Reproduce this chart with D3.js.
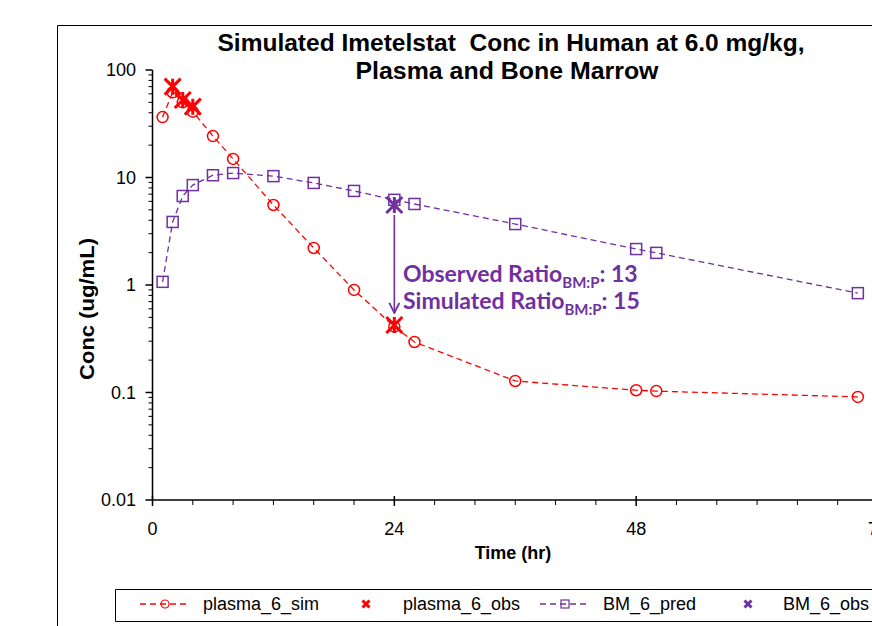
<!DOCTYPE html>
<html>
<head>
<title>Imetelstat Conc</title>
<style>
  body, html { margin: 0; padding: 0; background: #fff; }
  svg { display: block; }
</style>
</head>
<body>
<svg id="svg" width="872" height="626"></svg>
<script src="https://cdn.jsdelivr.net/npm/d3@7"></script>
<script>
  // values
  const times = [1, 2, 3, 4, 6, 8, 12, 16, 20, 24, 26, 36, 48, 50, 70]
  const plasmaSim = [36.5, 62, 50, 41, 24.3, 14.9, 5.55, 2.21, 0.90, 0.41, 0.295, 0.128, 0.105, 0.103, 0.091]
  const bmPred = [1.07, 3.86, 6.73, 8.5, 10.5, 11.0, 10.3, 8.9, 7.5, 6.2, 5.67, 3.69, 2.16, 1.99, 0.84]
  const plasmaObsTimes = [2, 3, 4, 24]
  const plasmaObs = [70, 52.6, 45.6, 0.425]
  const bmObsTimes = [24]
  const bmObs = [5.55]
  const xTicks = [0, 24, 48, 72]
  const yTicks = [0.01, 0.1, 1, 10, 100]
  const legendNames = ['plasma_6_sim', 'plasma_6_obs', 'BM_6_pred', 'BM_6_obs']

  const RED = '#ff0000'
  const PURPLE = '#7030a0'
  const FONT = '"Liberation Sans", Arial, sans-serif'

  const svg = d3.select('#svg')

  // outer chart frame (cut off on the right and bottom)
  svg.append('path')
    .attr('d', 'M57.5,640 V25.5 H880')
    .attr('fill', 'none')
    .attr('stroke', '#000')
    .attr('stroke-width', 1)

  const xScale = d3.scaleLinear().domain([0, 72]).range([152.5, 878])
  const yScale = d3.scaleLog().domain([0.01, 100]).range([500, 70])

  // title - the original font is tall and condensed, so squeeze it
  const title = svg.append('text')
    .attr('font-family', FONT)
    .attr('font-weight', 'bold')
    .attr('font-size', 23)
    .attr('text-anchor', 'middle')
    .attr('xml:space', 'preserve')
  title.append('tspan').attr('x', 511).attr('y', 51)
    .attr('textLength', 587).attr('lengthAdjust', 'spacingAndGlyphs')
    .text('Simulated Imetelstat  Conc in Human at 6.0 mg/kg,')
  title.append('tspan').attr('x', 507).attr('y', 79)
    .attr('textLength', 303).attr('lengthAdjust', 'spacingAndGlyphs')
    .text('Plasma and Bone Marrow')

  // axes
  const g = svg.append('g')

  g.append('line')
    .attr('x1', xScale(0)).attr('x2', xScale(0))
    .attr('y1', yScale(100)).attr('y2', yScale(0.01))
    .attr('stroke', '#000').attr('stroke-width', 1.5)
  g.append('line')
    .attr('x1', xScale(0)).attr('x2', 880)
    .attr('y1', yScale(0.01)).attr('y2', yScale(0.01))
    .attr('stroke', '#000').attr('stroke-width', 1.5)

  // y ticks, major + log minor
  const yMinor = []
  yTicks.slice(0, -1).forEach(t => {
    for (let k = 2; k <= 9; k++) yMinor.push(t * k)
  })
  g.selectAll('.ymin').data(yMinor).join('line')
    .attr('x1', xScale(0) - 4).attr('x2', xScale(0))
    .attr('y1', d => yScale(d)).attr('y2', d => yScale(d))
    .attr('stroke', '#000').attr('stroke-width', 1)
  g.selectAll('.ymaj').data(yTicks).join('line')
    .attr('x1', xScale(0) - 7).attr('x2', xScale(0))
    .attr('y1', d => yScale(d)).attr('y2', d => yScale(d))
    .attr('stroke', '#000').attr('stroke-width', 1.5)
  g.selectAll('.ylab').data(yTicks).join('text')
    .attr('x', 136)
    .attr('y', d => yScale(d) + 6)
    .attr('text-anchor', 'end')
    .attr('font-family', FONT)
    .attr('font-size', 18)
    .text(d => d3.format('~g')(d))

  // x ticks, major every 24 and minor every 4
  const xMinor = d3.range(0, 76, 4).filter(d => d % 24 !== 0)
  g.selectAll('.xmin').data(xMinor).join('line')
    .attr('x1', d => xScale(d)).attr('x2', d => xScale(d))
    .attr('y1', yScale(0.01)).attr('y2', yScale(0.01) + 5)
    .attr('stroke', '#000').attr('stroke-width', 1)
  g.selectAll('.xmaj').data(xTicks).join('line')
    .attr('x1', d => xScale(d)).attr('x2', d => xScale(d))
    .attr('y1', yScale(0.01) - 4).attr('y2', yScale(0.01) + 6)
    .attr('stroke', '#000').attr('stroke-width', 1.5)
  g.selectAll('.xlab').data(xTicks).join('text')
    .attr('x', d => xScale(d))
    .attr('y', 535)
    .attr('text-anchor', 'middle')
    .attr('font-family', FONT)
    .attr('font-size', 18)
    .text(d => d)

  // axis titles
  svg.append('text')
    .attr('x', 513).attr('y', 559)
    .attr('text-anchor', 'middle')
    .attr('font-family', FONT).attr('font-weight', 'bold').attr('font-size', 18)
    .text('Time (hr)')
  svg.append('text')
    .attr('transform', 'translate(94,309) rotate(-90)')
    .attr('text-anchor', 'middle')
    .attr('font-family', FONT).attr('font-weight', 'bold').attr('font-size', 21)
    .attr('textLength', 142).attr('lengthAdjust', 'spacingAndGlyphs')
    .text('Conc (ug/mL)')

  // markers
  const starPath = h => `M${-h},${-h}L${h},${h}M${-h},${h}L${h},${-h}M0,${-h}L0,${h}`
  const xPath = h => `M${-h},${-h}L${h},${h}M${-h},${h}L${h},${-h}`

  const linegen = d3.line()
    .x(d => xScale(d.t))
    .y(d => yScale(d.v))

  const simData = times.map((t, i) => ({ t: t, v: plasmaSim[i] }))
  const bmData = times.map((t, i) => ({ t: t, v: bmPred[i] }))

  function drawSeries(data, color, shape) {
    svg.append('path')
      .attr('d', linegen(data))
      .attr('fill', 'none')
      .attr('stroke', color)
      .attr('stroke-width', 1.3)
      .attr('stroke-dasharray', '6,4')
    const pts = svg.append('g')
    if (shape === 'circle') {
      pts.selectAll('circle').data(data).join('circle')
        .attr('cx', d => xScale(d.t)).attr('cy', d => yScale(d.v))
        .attr('r', 5.5)
        .attr('fill', 'none').attr('stroke', color).attr('stroke-width', 1.5)
    } else {
      pts.selectAll('rect').data(data).join('rect')
        .attr('x', d => xScale(d.t) - 5.5).attr('y', d => yScale(d.v) - 5.5)
        .attr('width', 11).attr('height', 11)
        .attr('fill', 'none').attr('stroke', color).attr('stroke-width', 1.5)
    }
  }

  drawSeries(simData, RED, 'circle')
  drawSeries(bmData, PURPLE, 'square')

  function drawStars(ts, vs, color) {
    svg.append('g').selectAll('path').data(ts).join('path')
      .attr('transform', (d, i) => `translate(${xScale(d)},${yScale(vs[i])})`)
      .attr('d', starPath(8))
      .attr('fill', 'none')
      .attr('stroke', color)
      .attr('stroke-width', 3)
  }
  drawStars(plasmaObsTimes, plasmaObs, RED)
  drawStars(bmObsTimes, bmObs, PURPLE)

  // ratio arrow between the observed values at 24 h
  svg.append('defs').append('marker')
    .attr('id', 'arrow')
    .attr('viewBox', '0 0 12 12')
    .attr('refX', 11).attr('refY', 6)
    .attr('markerWidth', 12).attr('markerHeight', 12)
    .attr('markerUnits', 'userSpaceOnUse')
    .attr('orient', 'auto')
    .append('path')
    .attr('d', 'M1,1 L11,6 L1,11')
    .attr('fill', 'none')
    .attr('stroke', PURPLE)
    .attr('stroke-width', 1.8)
  svg.append('line')
    .attr('x1', xScale(24)).attr('x2', xScale(24))
    .attr('y1', yScale(bmObs[0]) + 10)
    .attr('y2', yScale(plasmaObs[3]) - 12)
    .attr('stroke', PURPLE).attr('stroke-width', 1.6)
    .attr('marker-end', 'url(#arrow)')

  const note = [['Observed Ratio', ': 13', 282], ['Simulated Ratio', ': 15', 309]]
  note.forEach(n => {
    const t = svg.append('text')
      .attr('x', 403).attr('y', n[2])
      .attr('font-family', 'Lato, "Open Sans", sans-serif')
      .attr('font-weight', 'bold')
      .attr('font-size', 23)
      .attr('fill', PURPLE)
    t.append('tspan').text(n[0])
    t.append('tspan').attr('font-size', 15).attr('dy', 6).text('BM:P')
    t.append('tspan').attr('dy', -6).text(n[1])
  })

  // legend
  svg.append('path')
    .attr('d', 'M880,589.5 H115.5 V621.5 H880')
    .attr('fill', 'none').attr('stroke', '#000').attr('stroke-width', 1)

  const ly = 604
  const leg = svg.append('g')
  ;[[140, RED, 'circle'], [540, PURPLE, 'square']].forEach(s => {
    leg.append('line')
      .attr('x1', s[0]).attr('x2', s[0] + 50)
      .attr('y1', ly).attr('y2', ly)
      .attr('stroke', s[1]).attr('stroke-width', 1.3).attr('stroke-dasharray', '6,4')
    if (s[2] === 'circle') {
      leg.append('circle').attr('cx', s[0] + 25).attr('cy', ly).attr('r', 4)
        .attr('fill', 'none').attr('stroke', s[1]).attr('stroke-width', 1.2)
    } else {
      leg.append('rect').attr('x', s[0] + 21).attr('y', ly - 4).attr('width', 8).attr('height', 8)
        .attr('fill', 'none').attr('stroke', s[1]).attr('stroke-width', 1.2)
    }
  })
  ;[[366, RED], [748, PURPLE]].forEach(s => {
    leg.append('path')
      .attr('transform', `translate(${s[0]},${ly})`)
      .attr('d', xPath(3.5))
      .attr('stroke', s[1]).attr('stroke-width', 3)
  })
  leg.selectAll('text').data(legendNames).join('text')
    .attr('x', (d, i) => [203, 403, 603, 783][i])
    .attr('y', ly + 6)
    .attr('font-family', FONT)
    .attr('font-size', 18)
    .text(d => d)
</script>
</body>
</html>
